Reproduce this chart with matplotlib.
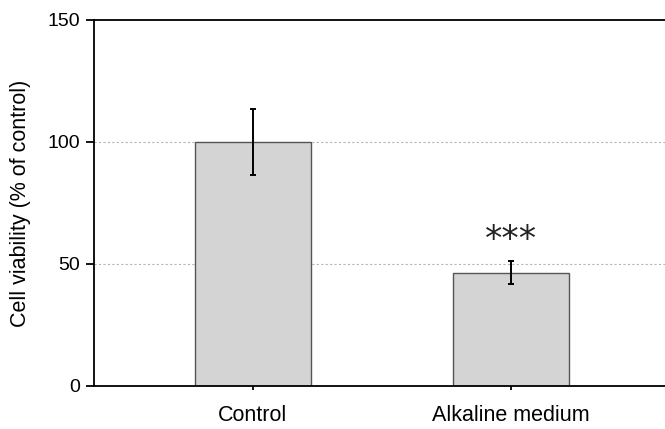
import numpy as np
import matplotlib
matplotlib.use('Agg')
import matplotlib.pyplot as plt

# values
groups = ['Control', 'Alkaline medium']
viability = [100.0, 46.4]
sem = [13.5, 4.8]
marks = ['', '***']

plt.rcParams['font.family'] = ['Liberation Sans', 'DejaVu Sans']

fig = plt.figure(figsize=(6.65, 4.29), dpi=100)
ax = fig.add_axes([94/665, 43/429, 575.5/665, 366/429])

x = np.arange(len(groups))
ax.bar(x, viability, width=0.45, color='#d4d4d4', edgecolor='#555555',
       linewidth=1.0, zorder=2)
ax.errorbar(x, viability, yerr=sem, fmt='none', ecolor='black',
            elinewidth=1.4, capsize=2, capthick=1.4, zorder=3)

for xi, v, e, m in zip(x, viability, sem, marks):
    if m:
        ax.text(xi, v + e + 1.5, m, ha='center', va='bottom', fontsize=25,
                family='DejaVu Sans', color='#222222')

ax.set_xlim(-0.617, 1.617)
ax.set_ylim(0, 150)
ax.set_yticks([0, 50, 100, 150])
ax.set_xticks(x)
ax.set_xticklabels(groups)
ax.set_ylabel('Cell viability (% of control)', fontsize=15.5, labelpad=12)

for y in [50, 100]:
    ax.axhline(y, color='#b5b5b5', linestyle=(0, (2, 2)), linewidth=0.8, zorder=1)

ax.spines['right'].set_visible(False)
for s in ['left', 'bottom', 'top']:
    ax.spines[s].set_linewidth(1.3)
ax.tick_params(axis='y', direction='out', length=6, width=1.3, labelsize=14, pad=4)
ax.tick_params(axis='x', direction='out', length=3, width=1.3, labelsize=15.5, pad=11)

fig.savefig('out.png', dpi=100)
